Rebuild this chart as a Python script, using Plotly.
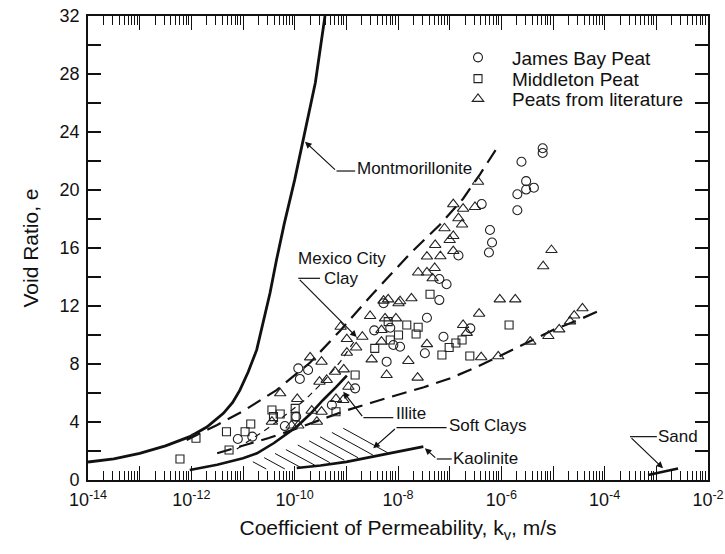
import numpy as np
import plotly.graph_objects as go

# ---------------- peat data: log10 of k_v (m/s) and void ratio e ----------------
james_logk = [-5.20, -5.20, -5.61, -5.52, -5.52, -5.37, -5.69, -5.69, -6.38, -6.22,
              -6.18, -6.24, -6.83, -7.20, -7.06, -7.20, -7.44, -6.60, -7.12, -7.48,
              -8.28, -8.46, -8.15, -8.09, -9.93, -9.74, -9.90, -8.83, -9.28, -9.97,
              -10.19, -11.10, -10.82, -8.22, -7.96]
james_e = [22.88, 22.55, 21.95, 20.61, 20.03, 20.16, 19.71, 18.60, 19.03, 17.24,
           16.38, 15.69, 15.48, 13.86, 13.50, 12.41, 11.19, 10.46, 9.88, 8.74,
           12.19, 10.32, 10.50, 9.31, 7.70, 7.59, 6.97, 6.32, 5.17, 4.37,
           3.72, 2.83, 2.99, 8.16, 9.19]

middleton_logk = [-12.22, -11.91, -11.32, -11.27, -10.96, -10.85, -10.44, -10.41, -10.28, -9.99,
                  -9.99, -9.20, -8.83, -8.19, -7.83, -7.61, -7.65, -7.99, -8.15, -8.45,
                  -7.38, -5.85, -6.76, -6.88, -7.01, -7.15, -6.61]
middleton_e = [1.45, 2.88, 3.33, 2.07, 3.33, 3.86, 4.83, 4.37, 4.55, 4.94,
               4.37, 4.71, 7.24, 10.92, 10.69, 10.53, 10.07, 10.00, 9.66, 9.08,
               12.81, 10.69, 9.66, 9.45, 9.14, 8.62, 8.55]

literature_logk = [-6.45, -6.93, -6.74, -6.51, -6.83, -6.76, -7.10, -6.93, -7.00, -7.28,
                   -7.44, -7.18, -6.93, -5.03, -5.19, -7.61, -7.44, -7.29, -7.33, -7.74,
                   -7.96, -8.19, -8.28, -7.99, -6.03, -5.73, -6.43, -6.74, -6.67, -7.44,
                   -7.80, -7.62, -6.39, -6.06, -5.44, -5.09, -4.88, -4.67, -4.59, -4.43,
                   -8.54, -8.25, -8.04, -8.32, -9.11, -8.99, -8.69, -8.81, -8.99, -9.70,
                   -9.48, -9.05, -9.22, -9.52, -9.38, -10.28, -9.95, -9.20, -9.06, -8.96,
                   -9.67, -9.48, -10.06, -9.93, -9.57, -10.44, -8.51, -8.22, -8.32]
literature_e = [20.57, 19.02, 18.71, 18.83, 18.05, 17.62, 17.36, 16.83, 16.55, 16.21,
                15.41, 15.43, 15.79, 15.86, 14.74, 14.31, 14.31, 14.62, 13.91, 12.53,
                12.33, 12.46, 12.37, 12.19, 12.46, 12.46, 11.47, 10.69, 10.15, 9.37,
                8.21, 7.06, 8.47, 8.53, 9.54, 9.93, 10.39, 10.94, 11.34, 11.84,
                11.31, 11.15, 11.15, 10.34, 10.57, 9.72, 9.88, 9.14, 8.78, 8.46,
                8.16, 7.63, 7.47, 6.78, 6.90, 5.98, 5.59, 5.59, 5.52, 6.43,
                4.78, 4.71, 3.76, 3.76, 4.02, 4.02, 8.32, 7.24, 9.54]

# ---------------- reference soil curves ----------------
mont_logk = [-14.0, -13.5, -13.0, -12.5, -12.03, -11.7, -11.38, -11.2, -11.06, -10.9,
             -10.735, -10.6, -10.477, -10.35, -10.2, -10.0, -9.833, -9.6, -9.413]
mont_e = [1.24, 1.45, 1.84, 2.35, 2.99, 3.65, 4.6, 5.35, 6.2, 7.45,
          8.97, 11.0, 12.9, 15.2, 17.7, 20.7, 23.45, 27.4, 32.0]

mexico_upper_logk = [-12.09, -11.5, -11.0, -10.35, -9.7, -9.12, -8.5, -7.77, -7.19, -6.74, -6.41, -6.03]
mexico_upper_e = [2.76, 3.8, 4.75, 6.2, 8.1, 10.3, 12.8, 15.6, 17.6, 19.4, 21.1, 23.2]

mexico_clay_logk = [-11.12, -10.48, -9.80, -9.45, -9.12, -8.79]
mexico_clay_e = [2.14, 3.66, 5.52, 6.76, 8.14, 9.86]

peat_lower_logk = [-11.5, -10.5, -10.0, -9.5, -9.0, -8.5, -8.0, -7.5, -7.0, -6.5, -6.0, -5.5, -5.0, -4.5, -4.15]
peat_lower_e = [1.84, 2.9, 3.5, 4.15, 4.8, 5.35, 5.85, 6.4, 7.0, 7.75, 8.6, 9.5, 10.35, 11.05, 11.6]

illite_logk = [-12.03, -11.5, -11.0, -10.73, -10.4, -9.96, -9.7, -9.45, -9.2, -8.99]
illite_e = [0.69, 1.05, 1.5, 1.84, 2.55, 3.68, 4.55, 5.52, 6.4, 7.2]

kaolinite_logk = [-9.96, -9.5, -9.0, -8.48, -8.0, -7.51]
kaolinite_e = [0.83, 1.0, 1.25, 1.6, 1.95, 2.3]

sand_logk = [-3.16, -2.58]
sand_e = [0.34, 0.80]

# soft clay band: hatch strokes (upper end -> lower end)
hatch_top_logk = [-10.81, -10.59, -10.38, -10.17, -9.94, -9.72, -9.51, -9.28, -9.06]
hatch_top_e = [1.26, 1.54, 1.83, 2.10, 2.41, 2.70, 2.98, 3.28, 3.57]
hatch_bot_logk = [-10.55, -10.19, -9.88, -9.61, -9.32, -9.04, -8.77, -8.48, -8.20]
hatch_bot_e = [0.76, 0.76, 0.86, 1.02, 1.20, 1.37, 1.53, 1.71, 1.88]

FONT = "Liberation Sans, Arial, sans-serif"
INK = "#111111"


def k(v):
    return 10 ** np.asarray(v, dtype=float)


fig = go.Figure()


def curve(lk, e, width=2.6, dash="solid"):
    fig.add_trace(go.Scatter(x=k(lk), y=e, mode="lines", showlegend=False,
                             line=dict(color=INK, width=width, dash=dash),
                             hoverinfo="skip"))


curve(mont_logk, mont_e, 2.8)
curve(mexico_upper_logk, mexico_upper_e, 2.2, "15px,8px")
curve(mexico_clay_logk, mexico_clay_e, 1.2, "6px,5px")
curve(peat_lower_logk, peat_lower_e, 2.2, "15px,8px")
curve(illite_logk, illite_e, 2.6)
curve(kaolinite_logk, kaolinite_e, 2.6)
curve(sand_logk, sand_e, 2.6)

# hatching of the soft clay band
hx, hy = [], []
for a, b, c, d in zip(hatch_top_logk, hatch_top_e, hatch_bot_logk, hatch_bot_e):
    hx += [10 ** a, 10 ** c, None]
    hy += [b, d, None]
fig.add_trace(go.Scatter(x=hx, y=hy, mode="lines", showlegend=False,
                         line=dict(color=INK, width=1), hoverinfo="skip"))

# peat measurements, each with its own legend row
MK = "#222222"
fig.add_trace(go.Scatter(x=k(james_logk), y=james_e, mode="markers", name="James Bay Peat",
                         legend="legend",
                         marker=dict(symbol="circle-open", size=9, color=MK, line=dict(width=1.1))))
fig.add_trace(go.Scatter(x=k(middleton_logk), y=middleton_e, mode="markers", name="Middleton Peat",
                         legend="legend2",
                         marker=dict(symbol="square-open", size=8, color=MK, line=dict(width=1.1))))
fig.add_trace(go.Scatter(x=k(literature_logk), y=literature_e, mode="markers", name="Peats from literature",
                         legend="legend3",
                         marker=dict(symbol="triangle-up-open", size=10, color=MK, line=dict(width=1.1))))


# ---------------- labels with leader lines ----------------
def label(text, lx, ly, anchor="left"):
    fig.add_annotation(x=lx, y=ly, text=text, showarrow=False, xanchor=anchor, yanchor="middle",
                       font=dict(family=FONT, size=17, color=INK))


def leader(head, elbow, end):
    # diagonal from the elbow to the arrow head, plus a short horizontal run to the text
    fig.add_trace(go.Scatter(x=[10 ** elbow[0], 10 ** end[0]], y=[elbow[1], end[1]],
                             mode="lines", showlegend=False, hoverinfo="skip",
                             line=dict(color=INK, width=1.2)))
    fig.add_annotation(x=head[0], y=head[1], ax=elbow[0], ay=elbow[1], axref="x", ayref="y",
                       xref="x", yref="y", text="", showarrow=True, arrowhead=2,
                       arrowsize=1.1, arrowwidth=1.2, arrowcolor=INK, standoff=0)


label("Montmorillonite", -8.83, 21.5)
leader((-9.80, 23.33), (-9.19, 21.31), (-8.83, 21.31))

label("Mexico City", -9.09, 15.31, "center")
label("Clay", -9.09, 13.91, "center")
leader((-8.80, 9.86), (-9.93, 13.91), (-9.51, 13.91))

label("Illite", -8.08, 4.6)
leader((-9.06, 6.09), (-8.67, 4.30), (-8.09, 4.30))

label("Soft Clays", -7.06, 3.79)
leader((-8.48, 2.19), (-8.03, 3.61), (-7.06, 3.61))

label("Kaolinite", -6.97, 1.50)
leader((-7.48, 2.19), (-7.25, 1.45), (-6.96, 1.45))

label("Sand", -3.00, 2.99)
leader((-2.87, 0.81), (-3.51, 2.99), (-2.99, 2.99))

# ---------------- axes ----------------
dec = list(range(-14, -1))
xt_vals = [10.0 ** d for d in dec]
xt_text = [f"10<sup>{d}</sup>" if d % 2 == 0 else "" for d in dec]
minor_vals = [m * 10.0 ** d for d in range(-14, -2) for m in range(2, 10)]

fig.update_xaxes(type="log", range=[-14, -2], tickvals=xt_vals, ticktext=xt_text,
                 ticks="inside", ticklen=14, tickwidth=1.2, tickcolor=INK,
                 minor=dict(tickvals=minor_vals, ticks="inside", ticklen=9, tickwidth=1, tickcolor=INK),
                 showline=True, linewidth=1.6, linecolor=INK, mirror="ticks",
                 showgrid=False, zeroline=False, automargin=False, ticklabelstandoff=3,
                 tickfont=dict(family=FONT, size=18, color=INK),
                 title=dict(text="Coefficient of Permeability, k<sub>v</sub>, m/s",
                            font=dict(family=FONT, size=21, color=INK), standoff=11))
fig.update_yaxes(range=[0, 32], tickvals=list(range(0, 33, 2)),
                 ticktext=[str(v) if v % 4 == 0 else "" for v in range(0, 33, 2)],
                 ticks="inside", ticklen=13, tickwidth=1.6, tickcolor=INK,
                 showline=True, linewidth=1.6, linecolor=INK, mirror="ticks",
                 showgrid=False, zeroline=False, automargin=False, ticklabelstandoff=3,
                 tickfont=dict(family=FONT, size=18, color=INK),
                 title=dict(text="Void Ratio, e", font=dict(family=FONT, size=21, color=INK), standoff=15))

leg = dict(xanchor="left", yanchor="middle", bgcolor="rgba(0,0,0,0)",
           font=dict(family=FONT, size=19, color=INK), itemsizing="trace", itemwidth=58)
LX = (444 - 88) / 620
fig.update_layout(width=725, height=554, margin=dict(l=88, r=17, t=16, b=74),
                  paper_bgcolor="white", plot_bgcolor="white",
                  font=dict(family=FONT, color=INK),
                  legend=dict(x=LX, y=(480 - 57.5) / 464, **leg),
                  legend2=dict(x=LX, y=(480 - 78.8) / 464, **leg),
                  legend3=dict(x=LX, y=(480 - 99.0) / 464, **leg))

fig.write_html("out.html")
